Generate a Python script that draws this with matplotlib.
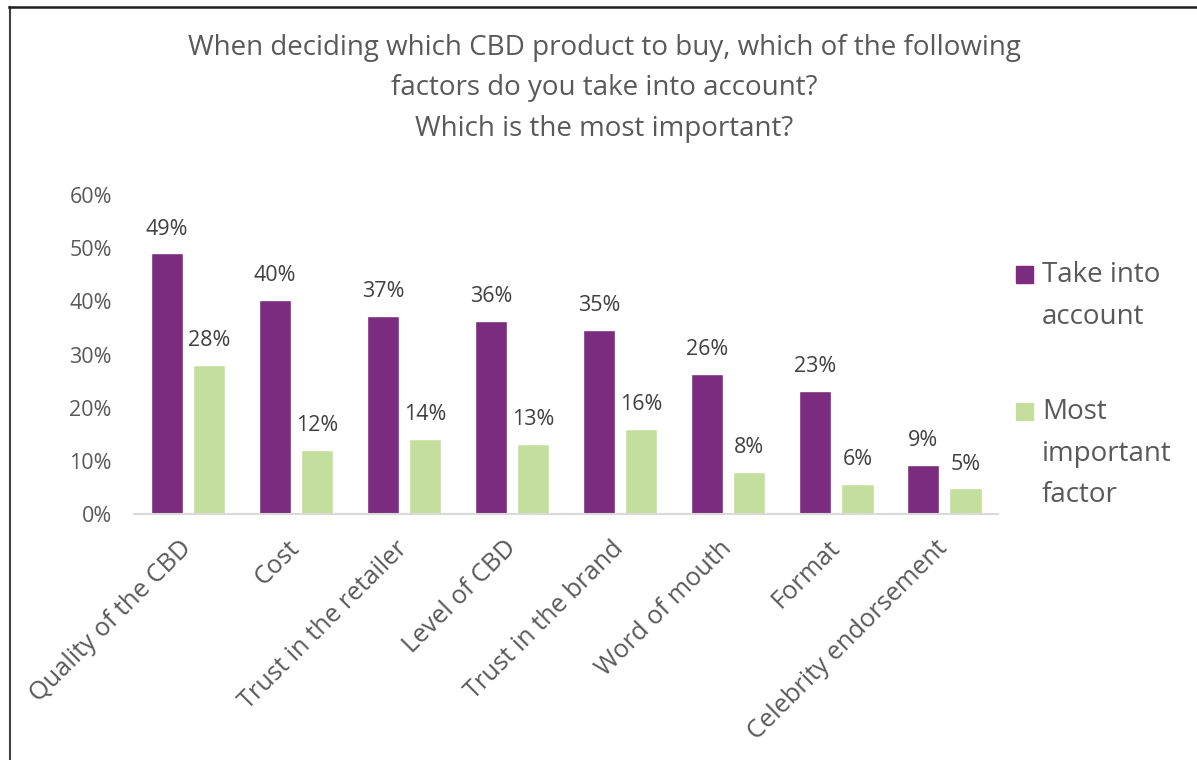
import matplotlib.pyplot as plt
from matplotlib.lines import Line2D
from matplotlib.patches import Rectangle
import numpy as np

categories = ['Quality of the CBD', 'Cost', 'Trust in the retailer', 'Level of CBD',
              'Trust in the brand', 'Word of mouth', 'Format', 'Celebrity endorsement']
take_into_account = [49.0, 40.2, 37.2, 36.3, 34.6, 26.3, 23.2, 9.3]
most_important = [28.1, 12.0, 14.1, 13.1, 16.0, 7.9, 5.7, 4.8]
series_names = ['Take into\naccount', 'Most\nimportant\nfactor']
colors = ['#7b2c7f', '#c4df9d']
title = ('When deciding which CBD product to buy, which of the following\n'
         'factors do you take into account?\nWhich is the most important?')

plt.rcParams['font.family'] = ['Open Sans', 'DejaVu Sans']
txt = '#595959'

fig = plt.figure(figsize=(11.97, 7.6), dpi=100)
ax = fig.add_axes([0.112, 0.3237, 0.722, 0.4197])

x = np.arange(len(categories))
w = 0.30
off = 0.195
for vals, col, dx in [(take_into_account, colors[0], -off), (most_important, colors[1], off)]:
    bars = ax.bar(x + dx, np.array(vals) / 100, width=w, color=col,
                  edgecolor='white', linewidth=1)
    for b, v in zip(bars, vals):
        ax.annotate(f'{v:.0f}%', (b.get_x() + b.get_width() / 2, b.get_height()),
                    xytext=(0, 10), textcoords='offset points', ha='center',
                    va='bottom', fontsize=15.5, color='#404040')

ax.set_xlim(-0.5, len(categories) - 0.5)
ax.set_ylim(0, 0.6)
ax.set_yticks(np.arange(0, 0.61, 0.1))
ax.set_yticklabels([f'{int(round(t * 100))}%' for t in np.arange(0, 0.61, 0.1)])
ax.set_xticks(x)
ax.set_xticklabels(categories, rotation=45, ha='right', va='center',
                   rotation_mode='anchor')
ax.tick_params(axis='both', length=0, labelsize=15.5, colors=txt)
ax.tick_params(axis='x', pad=22, labelsize=18.3)
ax.tick_params(axis='y', pad=16)
for s in ['top', 'right', 'left']:
    ax.spines[s].set_visible(False)
ax.spines['bottom'].set_color('#d9d9d9')
ax.spines['bottom'].set_linewidth(1.5)

fig.text(0.505, 1 - 34 / 760, title, ha='center', va='top', fontsize=20,
         color=txt, linespacing=1.59)

# legend drawn by hand so the swatch sits beside the first text line
for name, col, ytop in zip(series_names, colors, [1 - 266 / 760, 1 - 403 / 760]):
    fig.patches.append(Rectangle((1016 / 1197, ytop - 17 / 760), 17 / 1197, 17 / 760,
                                 transform=fig.transFigure, color=col))
    fig.text(1042 / 1197, ytop + 5 / 760, name, ha='left', va='top', fontsize=20,
             color=txt, linespacing=1.65)

# outer frame lines and clipped glyph at the corner
fig.add_artist(Line2D([9.5 / 1197, 9.5 / 1197], [0, 1 - 7 / 760],
                      transform=fig.transFigure, color='#404040', lw=1.5))
fig.add_artist(Line2D([9 / 1197, 1], [1 - 7 / 760, 1 - 7 / 760],
                      transform=fig.transFigure, color='#202020', lw=1.8))
fig.text(34 / 1197, 1 + 14 / 760, 'g', ha='left', va='baseline', fontsize=16, color='black')

fig.savefig('out.png', dpi=100)
